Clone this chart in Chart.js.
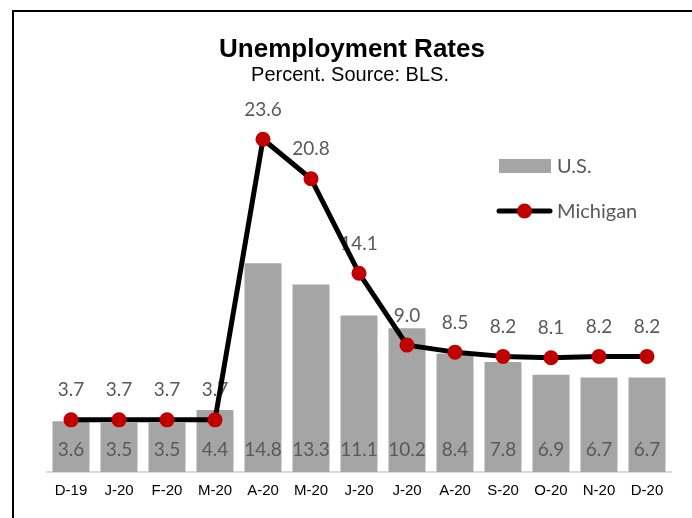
<!DOCTYPE html>
<html>
<head>
<meta charset="utf-8">
<script src="https://cdn.jsdelivr.net/npm/chart.js@4/dist/chart.umd.min.js"></script>
<style>
  html, body { margin: 0; padding: 0; background: #fff; }
  canvas { display: block; }
</style>
</head>
<body>
<canvas id="c" width="692" height="518"></canvas>
<script>
// Monthly unemployment rates, Dec 2019 - Dec 2020
const months = ['D-19', 'J-20', 'F-20', 'M-20', 'A-20', 'M-20', 'J-20', 'J-20', 'A-20', 'S-20', 'O-20', 'N-20', 'D-20'];
const usRate = [3.6, 3.5, 3.5, 4.4, 14.8, 13.3, 11.1, 10.2, 8.4, 7.8, 6.9, 6.7, 6.7];
const michiganRate = [3.7, 3.7, 3.7, 3.7, 23.6, 20.8, 14.1, 9.0, 8.5, 8.2, 8.1, 8.2, 8.2];
const titleText = 'Unemployment Rates';
const subtitleText = 'Percent. Source: BLS.';

const BAR_GREY = '#a5a5a5';
const LINE_BLACK = '#000000';
const POINT_RED = '#c00000';
const LABEL_GREY = '#595959';
const LABEL_FONT = '19px Lato, "Open Sans", sans-serif';

// Value labels: US values sit near the foot of each bar, Michigan values above each point.
// Drawn right after the bars so the Michigan line passes over them.
const valueLabels = {
  id: 'valueLabels',
  afterDatasetDraw(chart, args) {
    if (args.index !== 0) return;
    const ctx = chart.ctx;
    const yScale = chart.scales.y;
    const barMeta = chart.getDatasetMeta(0);
    const lineMeta = chart.getDatasetMeta(1);
    ctx.save();
    ctx.font = LABEL_FONT;
    ctx.fillStyle = LABEL_GREY;
    ctx.textAlign = 'center';
    ctx.textBaseline = 'alphabetic';
    const base = yScale.getPixelForValue(0);
    barMeta.data.forEach((bar, i) => {
      ctx.fillText(usRate[i].toFixed(1), bar.x, base - 16);
    });
    lineMeta.data.forEach((pt, i) => {
      ctx.fillText(michiganRate[i].toFixed(1), pt.x, pt.y - 23.5);
    });
    ctx.restore();
  }
};

// Title, subtitle, legend and the frame lines
const decorations = {
  id: 'decorations',
  afterDraw(chart) {
    const ctx = chart.ctx;
    ctx.save();
    // frame
    ctx.strokeStyle = '#000';
    ctx.lineWidth = 2;
    ctx.beginPath();
    ctx.moveTo(13, 518);
    ctx.lineTo(13, 11);
    ctx.lineTo(692, 11);
    ctx.stroke();

    // titles
    ctx.fillStyle = '#000';
    ctx.textAlign = 'center';
    ctx.textBaseline = 'alphabetic';
    ctx.font = 'bold 26px "Liberation Sans", Arial, sans-serif';
    ctx.fillText(titleText, 352, 57);
    ctx.font = '20px "Liberation Sans", Arial, sans-serif';
    ctx.fillText(subtitleText, 350, 81);

    // legend
    const ds = chart.data.datasets;
    ctx.fillStyle = ds[0].backgroundColor;
    ctx.fillRect(499, 159, 52, 14);
    ctx.strokeStyle = ds[1].borderColor;
    ctx.lineWidth = 5;
    ctx.lineCap = 'round';
    ctx.beginPath();
    ctx.moveTo(499, 211);
    ctx.lineTo(550, 211);
    ctx.stroke();
    ctx.fillStyle = ds[1].pointBackgroundColor;
    ctx.beginPath();
    ctx.arc(524.5, 211, 7.5, 0, Math.PI * 2);
    ctx.fill();
    ctx.fillStyle = LABEL_GREY;
    ctx.textAlign = 'left';
    ctx.font = '20px Lato, "Open Sans", sans-serif';
    ctx.fillText(ds[0].label, 557, 173);
    ctx.fillText(ds[1].label, 557, 217.5);
    ctx.restore();
  }
};

new Chart(document.getElementById('c'), {
  data: {
    labels: months,
    datasets: [
      {
        type: 'bar',
        label: 'U.S.',
        data: usRate,
        backgroundColor: BAR_GREY,
        borderWidth: 0,
        categoryPercentage: 1,
        barPercentage: 0.77,
        order: 2
      },
      {
        type: 'line',
        label: 'Michigan',
        data: michiganRate,
        borderColor: LINE_BLACK,
        borderWidth: 5,
        borderJoinStyle: 'round',
        borderCapStyle: 'round',
        tension: 0,
        pointRadius: 7.5,
        pointBorderWidth: 0,
        pointBackgroundColor: POINT_RED,
        pointBorderColor: POINT_RED,
        clip: false,
        order: 1
      }
    ]
  },
  options: {
    responsive: false,
    animation: false,
    layout: { padding: { left: 47, right: 21, top: 49, bottom: 8 } },
    plugins: {
      legend: { display: false },
      title: { display: false },
      tooltip: { enabled: false }
    },
    scales: {
      x: {
        grid: { display: false, drawTicks: false },
        border: { display: true, color: '#d9d9d9', width: 2 },
        ticks: {
          color: '#000',
          padding: 10,
          maxRotation: 0,
          autoSkip: false,
          font: { family: '"Liberation Sans", Arial, sans-serif', size: 15 }
        }
      },
      y: {
        display: false,
        min: 0,
        max: 30
      }
    }
  },
  plugins: [valueLabels, decorations]
});
</script>
</body>
</html>
